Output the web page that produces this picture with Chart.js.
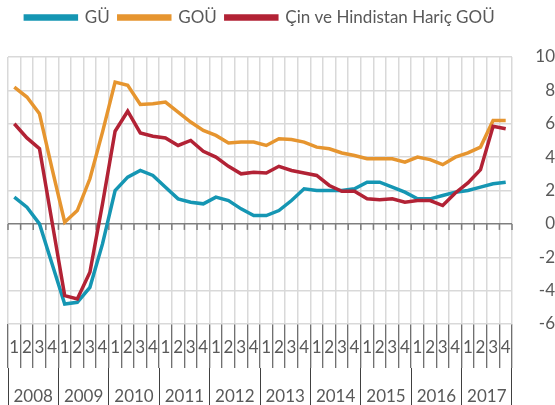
<!DOCTYPE html>
<html>
<head>
<meta charset="utf-8">
<script src="https://cdn.jsdelivr.net/npm/chart.js@4/dist/chart.umd.min.js"></script>
<style>
  html, body { margin: 0; padding: 0; background: #fff; }
</style>
</head>
<body>
<canvas id="grafico" width="555" height="405"></canvas>
<script>
// Dados (trimestral, 2008-2017)
const anos = ['2008', '2009', '2010', '2011', '2012', '2013', '2014', '2015', '2016', '2017'];
const trimestres = ['1', '2', '3', '4'];

const gu = [1.6, 1.0, 0.0, -2.4, -4.8, -4.7, -3.8, -1.2, 2.0, 2.8,
            3.2, 2.9, 2.2, 1.5, 1.3, 1.2, 1.6, 1.4, 0.9, 0.5,
            0.5, 0.8, 1.4, 2.1, 2.0, 2.0, 2.0, 2.1, 2.5, 2.5,
            2.2, 1.9, 1.5, 1.5, 1.7, 1.9, 2.0, 2.2, 2.4, 2.5];

const gou = [8.2, 7.6, 6.6, 3.3, 0.1, 0.8, 2.7, 5.5, 8.5, 8.3,
             7.15, 7.2, 7.3, 6.7, 6.1, 5.6, 5.3, 4.85, 4.9, 4.9,
             4.7, 5.1, 5.05, 4.9, 4.6, 4.5, 4.25, 4.1, 3.9, 3.9,
             3.9, 3.7, 4.0, 3.85, 3.55, 4.0, 4.25, 4.6, 6.2, 6.2];

const cinHindHaric = [6.0, 5.15, 4.5, 0.1, -4.3, -4.5, -2.9, 1.2, 5.55, 6.75,
                      5.45, 5.25, 5.15, 4.7, 5.0, 4.35, 4.0, 3.45, 3.0, 3.1,
                      3.05, 3.45, 3.2, 3.05, 2.9, 2.3, 1.95, 1.95, 1.5, 1.45,
                      1.5, 1.3, 1.4, 1.4, 1.1, 1.85, 2.45, 3.25, 5.85, 5.7];

const yMin = -6, yMax = 10, yPasso = 2;

// rótulos de categoria: 1..4 para cada ano
const labels = [];
anos.forEach(() => trimestres.forEach(t => labels.push(t)));

const cinza = '#595959';
Chart.defaults.font.family = 'Lato';
Chart.defaults.color = cinza;

// altura fixa da legenda
const alturaLegenda = {
    id: 'alturaLegenda',
    beforeLayout(chart) {
        const lg = chart.legend;
        if (lg && !lg._ajustado) {
            const fit = lg.fit;
            lg.fit = function () { fit.call(this); this.height = 57; };
            lg._ajustado = true;
        }
    }
};

// pequenos tracinhos no eixo zero
const tracosZero = {
    id: 'tracosZero',
    beforeDatasetsDraw(chart) {
        const x = chart.scales.x, y = chart.scales.y;
        const y0 = y.getPixelForValue(0);
        const c = chart.ctx;
        c.save();
        c.strokeStyle = '#7f7f7f';
        c.lineWidth = 1.5;
        for (let i = 0; i <= labels.length; i++) {
            const px = x.getPixelForValue(i - 0.5);
            c.beginPath();
            c.moveTo(px, y0);
            c.lineTo(px, y0 + 6);
            c.stroke();
        }
        c.restore();
    }
};

const ctx = document.getElementById('grafico').getContext('2d');
new Chart(ctx, {
    type: 'line',
    data: {
        labels: labels,
        datasets: [
            { label: 'GÜ', data: gu, borderColor: '#1596b3', backgroundColor: '#1596b3', order: 3 },
            { label: 'GOÜ', data: gou, borderColor: '#e6952f', backgroundColor: '#e6952f', order: 2 },
            { label: 'Çin ve Hindistan Hariç GOÜ', data: cinHindHaric, borderColor: '#b22235', backgroundColor: '#b22235', order: 1 }
        ]
    },
    options: {
        responsive: false,
        animation: false,
        elements: {
            line: { borderWidth: 3.5, tension: 0 },
            point: { radius: 0 }
        },
        layout: { padding: { left: 8, top: 0, right: 0, bottom: 0 } },
        plugins: {
            legend: {
                position: 'top',
                fullSize: false,
                labels: {
                    boxWidth: 51,
                    boxHeight: 3,
                    padding: 9,
                    color: cinza,
                    font: { size: 17 },
                    sort: (a, b) => a.datasetIndex - b.datasetIndex
                }
            },
            tooltip: { enabled: false }
        },
        scales: {
            x: {
                type: 'category',
                position: 'bottom',
                weight: 0,
                offset: true,
                grid: { offset: true, color: '#d9d9d9', lineWidth: 1.5, tickColor: '#404040', tickWidth: 1, tickLength: 44 },
                border: { display: false },
                ticks: { autoSkip: false, maxRotation: 0, padding: -31, font: { size: 17 } },
                afterFit(s) { s.height = 44; }
            },
            x2: {
                type: 'category',
                labels: anos,
                position: 'bottom',
                weight: 1,
                offset: true,
                grid: { offset: true, drawOnChartArea: false, tickColor: '#404040', tickWidth: 1, tickLength: 37 },
                border: { display: false },
                ticks: { autoSkip: false, maxRotation: 0, padding: -19, font: { size: 17 } },
                afterFit(s) { s.height = 37; }
            },
            y: {
                position: 'right',
                min: yMin,
                max: yMax,
                ticks: { stepSize: yPasso, crossAlign: 'far', padding: 17, font: { size: 17 } },
                grid: {
                    drawTicks: false,
                    lineWidth: 1.5,
                    color: c => c.tick.value === 0 ? '#7f7f7f' : '#d9d9d9'
                },
                border: { display: false },
                afterFit(s) { s.width = 43; }
            }
        }
    },
    plugins: [alturaLegenda, tracosZero]
});
</script>
</body>
</html>
